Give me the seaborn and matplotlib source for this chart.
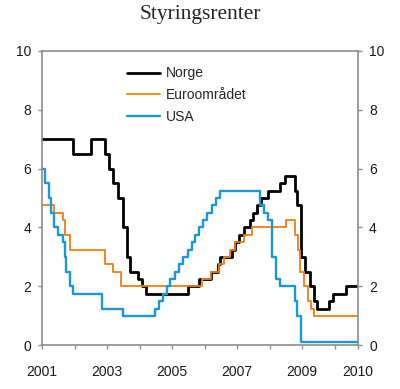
import matplotlib
matplotlib.use("Agg")
import matplotlib.pyplot as plt
import seaborn as sns
import pandas as pd

# ---- data (decimal year of each rate change, rate after change) ----
norge_t = [2001.0, 2001.95, 2002.5, 2002.95, 2003.06, 2003.17, 2003.33, 2003.48, 2003.62,
           2003.71, 2003.96, 2004.08, 2004.19, 2005.49, 2005.84, 2006.21, 2006.41, 2006.49,
           2006.83, 2006.95, 2007.07, 2007.2, 2007.41, 2007.49, 2007.62, 2007.74, 2007.95,
           2008.31, 2008.48, 2008.79, 2008.83, 2008.96, 2009.1, 2009.24, 2009.37, 2009.47,
           2009.83, 2009.96, 2010.35, 2010.72]
norge_r = [7.0, 6.5, 7.0, 6.5, 6.0, 5.5, 5.0, 4.0, 3.0,
           2.5, 2.25, 2.0, 1.75, 2.0, 2.25, 2.5, 2.75, 3.0,
           3.25, 3.5, 3.75, 4.0, 4.25, 4.5, 4.75, 5.0, 5.25,
           5.5, 5.75, 5.25, 4.75, 3.0, 2.5, 2.0, 1.5, 1.25,
           1.5, 1.75, 2.0, 2.0]

euro_t = [2001.0, 2001.36, 2001.66, 2001.71, 2001.86, 2002.93, 2003.18, 2003.43, 2005.93,
          2006.19, 2006.45, 2006.61, 2006.78, 2006.95, 2007.2, 2007.45, 2008.52, 2008.79,
          2008.87, 2008.94, 2009.05, 2009.19, 2009.27, 2009.36, 2010.72]
euro_r = [4.75, 4.5, 4.25, 3.75, 3.25, 2.75, 2.5, 2.0, 2.25,
          2.5, 2.75, 3.0, 3.25, 3.5, 3.75, 4.0, 4.25, 3.75,
          3.25, 2.5, 2.0, 1.5, 1.25, 1.0, 1.0]

usa_t = [2001.0, 2001.08, 2001.21, 2001.29, 2001.37, 2001.49, 2001.64, 2001.71, 2001.75,
         2001.85, 2001.94, 2002.85, 2003.48, 2004.49, 2004.61, 2004.72, 2004.86, 2004.95,
         2005.09, 2005.22, 2005.34, 2005.49, 2005.61, 2005.72, 2005.83, 2005.95, 2006.08,
         2006.24, 2006.36, 2006.49, 2007.71, 2007.83, 2007.94, 2008.06, 2008.08, 2008.21,
         2008.33, 2008.77, 2008.83, 2008.96, 2010.72]
usa_r = [6.0, 5.5, 5.0, 4.5, 4.0, 3.75, 3.5, 3.0, 2.5,
         2.0, 1.75, 1.25, 1.0, 1.25, 1.5, 1.75, 2.0, 2.25,
         2.5, 2.75, 3.0, 3.25, 3.5, 3.75, 4.0, 4.25, 4.5,
         4.75, 5.0, 5.25, 4.75, 4.5, 4.25, 3.5, 3.0, 2.25,
         2.0, 1.5, 1.0, 0.125, 0.125]

series_names = ["Norge", "Euroområdet", "USA"]
x_ticks = [2001, 2002, 2003, 2004, 2005, 2006, 2007, 2008, 2009, 2010, 2010.72]
x_labels = ["2001", "", "2003", "", "2005", "", "2007", "", "2009", "", "2010"]
y_ticks = [0, 2, 4, 6, 8, 10]
title = "Styringsrenter"

# ---- plotting ----
sns.set_theme(style="white")
plt.rcParams["font.family"] = ["Liberation Sans", "DejaVu Sans"]

fig = plt.figure(figsize=(4.0, 3.89), dpi=100)
ax = fig.add_axes([0.105, 0.112, 0.79, 0.758])

colors = ["#000000", "#f07d12", "#1b98dc"]
widths = [2.0, 1.3, 1.7]
for name, t, r, c, w in zip(series_names, [norge_t, euro_t, usa_t],
                            [norge_r, euro_r, usa_r], colors, widths):
    df = pd.DataFrame({"t": t, "r": r})
    sns.lineplot(data=df, x="t", y="r", ax=ax, color=c, linewidth=w,
                 drawstyle="steps-post", label=name, estimator=None, sort=False)

ax.set_xlim(2001, 2010.72)
ax.set_ylim(0, 10)
ax.set_xticks(x_ticks)
ax.set_xticklabels(x_labels)
ax.set_yticks(y_ticks)
ax.set_yticklabels([str(v) for v in y_ticks])
ax.set_xlabel("")
ax.set_ylabel("")

spine_c = "#8c8c8c"
for s in ax.spines.values():
    s.set_visible(True)
    s.set_color(spine_c)
    s.set_linewidth(1.2)

ax.tick_params(axis="both", which="both", direction="out", length=3, width=1,
               color=spine_c, labelsize=10, labelcolor="#1a1a1a")
ax.tick_params(axis="y", left=True, right=True, labelleft=True, labelright=True, pad=5)
ax.tick_params(axis="x", bottom=True, pad=11)

leg = ax.legend(loc="upper left", bbox_to_anchor=(0.25, 0.965), frameon=False,
                fontsize=10, handlelength=2.4, handletextpad=0.4, labelspacing=0.55,
                borderaxespad=0)

fig.text(0.5, 1 - 14 / 389, title, ha="center", va="center",
         fontsize=15.5, family=["Liberation Serif", "DejaVu Serif"])

fig.savefig("out.png", dpi=100)
